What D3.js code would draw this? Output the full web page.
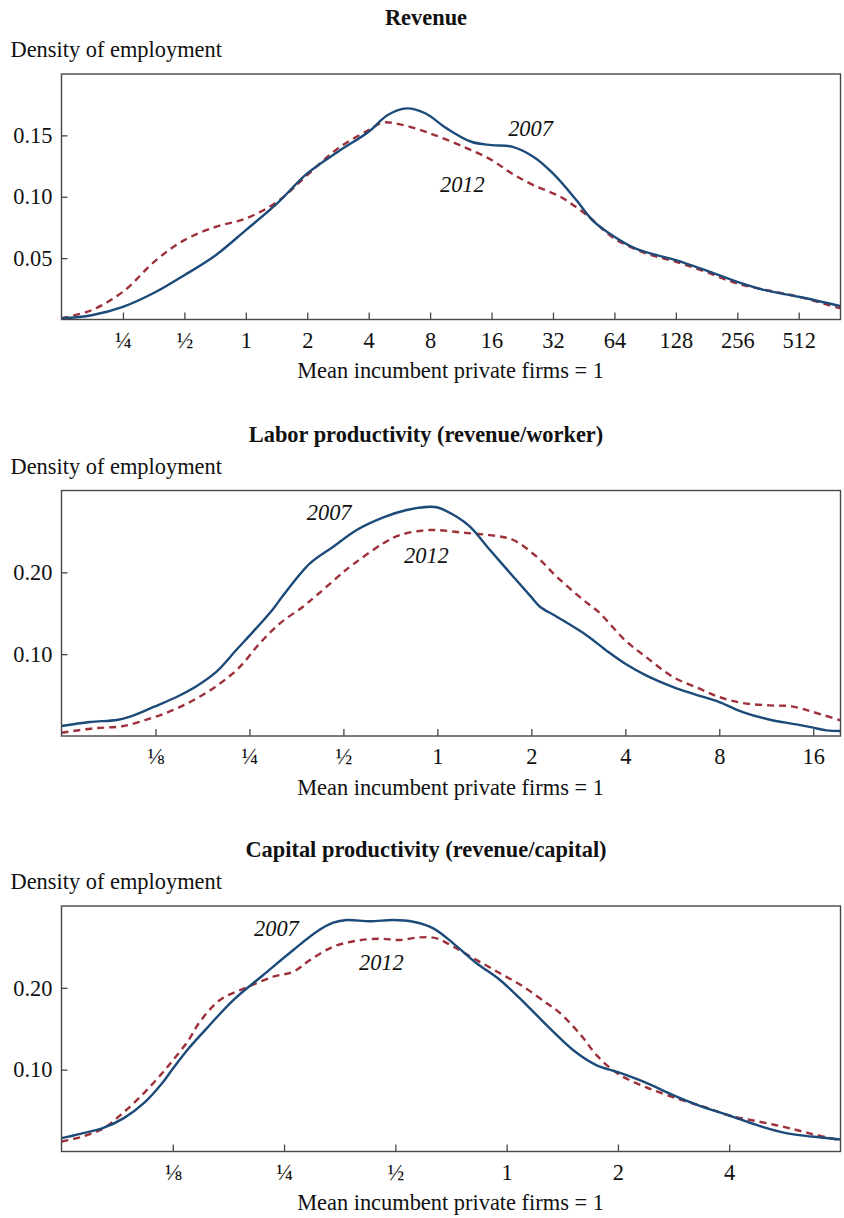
<!DOCTYPE html>
<html>
<head>
<meta charset="utf-8">
<script src="https://cdn.jsdelivr.net/npm/d3@7"></script>
<style>
  html, body { margin: 0; padding: 0; background: #fff; }
  svg { display: block; }
  text { font-family: "Liberation Serif", "Times New Roman", serif; fill: #111; }
</style>
</head>
<body>
<svg id="chart" width="844" height="1218"></svg>
<script>
// Employment-weighted densities; x is log2 of the ratio to the mean of incumbent private firms.
const revenue2007 = [[-3,0.001],[-2.51,0.0035],[-2,0.0103],[-1.46,0.0226],[-1,0.0361],[-0.49,0.0524],[0,0.0728],[0.51,0.0946],[1,0.119],[1.5,0.1367],[2,0.153],[2.31,0.1666],[2.62,0.172],[2.92,0.168],[3.27,0.1557],[3.67,0.1448],[4,0.1421],[4.33,0.1408],[4.68,0.1326],[5,0.119],[5.38,0.0973],[5.64,0.081],[6,0.0674],[6.34,0.0579],[6.69,0.0524],[7,0.0484],[7.48,0.0402],[8,0.0307],[8.45,0.0239],[9,0.0185],[9.68,0.0109]];
const revenue2012 = [[-3,0.001],[-2.51,0.0076],[-2,0.0226],[-1.46,0.0484],[-1,0.0647],[-0.49,0.0755],[0,0.0823],[0.51,0.0959],[1,0.1177],[1.5,0.1394],[2,0.1543],[2.22,0.1603],[2.49,0.1592],[3,0.1516],[3.54,0.1408],[4,0.1299],[4.33,0.119],[4.68,0.1095],[5.12,0.1],[5.55,0.0851],[6,0.066],[6.52,0.0538],[7,0.047],[7.48,0.0389],[8,0.0293],[8.53,0.0234],[9,0.0185],[9.68,0.009]];

const labor2007 = [[-4,0.0122],[-3.7,0.0171],[-3.41,0.0196],[-3.27,0.0236],[-3.02,0.0355],[-2.77,0.048],[-2.56,0.0611],[-2.35,0.0786],[-2.14,0.1051],[-1.96,0.1275],[-1.75,0.155],[-1.64,0.172],[-1.356,0.211],[-1.108,0.2313],[-0.859,0.2517],[-0.575,0.2672],[-0.327,0.2762],[-0.078,0.2802],[-0.007,0.2795],[0.206,0.268],[0.347,0.2558],[0.56,0.2273],[0.808,0.1947],[1,0.1697],[1.092,0.158],[1.27,0.1458],[1.59,0.1229],[1.82,0.1026],[2,0.0883],[2.22,0.0741],[2.51,0.0598],[2.74,0.0509],[3,0.0415],[3.25,0.0293],[3.54,0.0199],[3.82,0.0142],[4,0.0102],[4.14,0.0069],[4.29,0.0061]];
const labor2012 = [[-4,0.004],[-3.66,0.0094],[-3.34,0.0122],[-3.02,0.0228],[-2.77,0.0338],[-2.53,0.048],[-2.31,0.0644],[-2.1,0.0847],[-1.89,0.1133],[-1.675,0.1377],[-1.43,0.158],[-1.284,0.172],[-1,0.2003],[-0.93,0.2069],[-0.575,0.2355],[-0.398,0.2456],[-0.078,0.2517],[0.276,0.2484],[0.631,0.2444],[0.808,0.2395],[1.057,0.2191],[1.27,0.1947],[1.553,0.1662],[1.712,0.1519],[2,0.1168],[2.22,0.0965],[2.51,0.072],[2.79,0.0578],[3,0.0476],[3.25,0.0403],[3.54,0.0374],[3.77,0.0362],[4,0.0293],[4.29,0.0191]];

const capital2007 = [[-4,0.0163],[-3.83,0.0216],[-3.63,0.0285],[-3.44,0.0408],[-3.25,0.0603],[-3.1,0.0827],[-3,0.1011],[-2.86,0.1255],[-2.695,0.1505],[-2.456,0.1851],[-2.187,0.2157],[-1.917,0.2462],[-1.707,0.2686],[-1.558,0.2796],[-1.437,0.2829],[-1.228,0.2813],[-1.019,0.2829],[-0.839,0.2808],[-0.659,0.2727],[-0.48,0.2544],[-0.27,0.23],[-0.06,0.2096],[0.18,0.179],[0.37,0.153],[0.62,0.1215],[0.81,0.1052],[1,0.097],[1.24,0.0848],[1.49,0.0693],[1.73,0.0562],[2,0.044],[2.26,0.0318],[2.5,0.0228],[2.74,0.0183],[3,0.0147]];
const capital2012 = [[-4,0.0122],[-3.83,0.0175],[-3.63,0.0277],[-3.44,0.0481],[-3.25,0.0726],[-3.1,0.095],[-3,0.1113],[-2.86,0.1357],[-2.756,0.1586],[-2.576,0.1851],[-2.336,0.2006],[-2.097,0.2136],[-1.917,0.2197],[-1.767,0.234],[-1.558,0.2503],[-1.347,0.2576],[-1.138,0.26],[-0.958,0.2584],[-0.779,0.2617],[-0.629,0.2605],[-0.48,0.2503],[-0.27,0.234],[-0.06,0.2178],[0.15,0.2014],[0.36,0.1811],[0.47,0.1704],[0.67,0.1418],[0.81,0.1174],[1,0.095],[1.25,0.0787],[1.54,0.0644],[1.78,0.0542],[2,0.044],[2.26,0.0367],[2.5,0.0298],[2.74,0.0216],[3,0.0135]];

// Tick positions (log2) and their labels
const revenueXTicks = [-2,-1,0,1,2,3,4,5,6,7,8,9];
const revenueXLabels = ["\u00BC","\u00BD","1","2","4","8","16","32","64","128","256","512"];
const labourXTicks = [-3,-2,-1,0,1,2,3,4];
const labourXLabels = ["\u215B","\u00BC","\u00BD","1","2","4","8","16"];
const capitalXTicks = [-3,-2,-1,0,1,2];
const capitalXLabels = ["\u215B","\u00BC","\u00BD","1","2","4"];
const revenueYTicks = [0.05,0.10,0.15];
const productivityYTicks = [0.10,0.20];

// Series label anchors: [log2 x, density]
const revenueLabels = {y2007: [4.27,0.1497], y2012: [3.16,0.1041]};
const labourLabels = {y2007: [-1.39,0.264], y2012: [-0.355,0.2114]};
const capitalLabels = {y2007: [-2.27,0.2633], y2012: [-1.327,0.2212]};

const panels = [
  {title: "Revenue", top: 74, xDomain: [-3, 9.68], yDomain: [0, 0.2],
   xTicks: revenueXTicks, xLabels: revenueXLabels, yTicks: revenueYTicks,
   s2007: revenue2007, s2012: revenue2012, labels: revenueLabels},
  {title: "Labor productivity (revenue/worker)", top: 490.5, xDomain: [-4, 4.29], yDomain: [0, 0.3],
   xTicks: labourXTicks, xLabels: labourXLabels, yTicks: productivityYTicks,
   s2007: labor2007, s2012: labor2012, labels: labourLabels},
  {title: "Capital productivity (revenue/capital)", top: 906, xDomain: [-4, 3], yDomain: [0, 0.3],
   xTicks: capitalXTicks, xLabels: capitalXLabels, yTicks: productivityYTicks,
   s2007: capital2007, s2012: capital2012, labels: capitalLabels}
];

const svg = d3.select("#chart");
const left = 61.5, right = 840.5, plotH = 245.5;
const blue = "#1c4a79", red = "#9d303a", frame = "#474747";
const fs = 22.4;

panels.forEach(p => {
  const g = svg.append("g");
  const bottom = p.top + plotH;
  const x = d3.scaleLinear().domain(p.xDomain).range([left, right]);
  const y = d3.scaleLinear().domain(p.yDomain).range([bottom, p.top]);

  g.append("text").attr("x", 426).attr("y", p.top - 49)
    .attr("text-anchor", "middle").attr("font-weight", "bold").attr("font-size", fs)
    .text(p.title);
  g.append("text").attr("x", 10.5).attr("y", p.top - 17)
    .attr("font-size", fs).text("Density of employment");

  const clipId = "clip" + Math.round(p.top);
  g.append("clipPath").attr("id", clipId).append("rect")
    .attr("x", left).attr("y", p.top).attr("width", right - left).attr("height", plotH);

  const line = d3.line().x(d => x(d[0])).y(d => y(d[1])).curve(d3.curveCatmullRom.alpha(0.5));
  const lines = g.append("g").attr("clip-path", `url(#${clipId})`);
  lines.append("path").datum(p.s2012).attr("d", line)
    .attr("fill", "none").attr("stroke", red).attr("stroke-width", 2.4)
    .attr("stroke-dasharray", "7,5");
  lines.append("path").datum(p.s2007).attr("d", line)
    .attr("fill", "none").attr("stroke", blue).attr("stroke-width", 2.4);

  // x axis with inward ticks
  const xAxis = d3.axisBottom(x).tickValues(p.xTicks).tickSizeInner(-7).tickSizeOuter(0)
    .tickPadding(12.5).tickFormat((d, i) => p.xLabels[i]);
  const xa = g.append("g").attr("transform", `translate(0,${bottom})`).call(xAxis);
  xa.select(".domain").remove();
  xa.selectAll(".tick line").attr("stroke", frame).attr("stroke-width", 1.3);
  xa.selectAll(".tick text").attr("font-size", fs).attr("font-family", "Liberation Serif, serif")
    .attr("fill", "#111").attr("dy", "0.71em");

  const yAxis = d3.axisLeft(y).tickValues(p.yTicks).tickSizeInner(-6).tickSizeOuter(0)
    .tickPadding(9).tickFormat(d3.format(".2f"));
  const ya = g.append("g").attr("transform", `translate(${left},0)`).call(yAxis);
  ya.select(".domain").remove();
  ya.selectAll(".tick line").attr("stroke", frame).attr("stroke-width", 1.3);
  ya.selectAll(".tick text").attr("font-size", fs).attr("font-family", "Liberation Serif, serif")
    .attr("fill", "#111");

  g.append("rect").attr("x", left).attr("y", p.top).attr("width", right - left).attr("height", plotH)
    .attr("fill", "none").attr("stroke", frame).attr("stroke-width", 1.4);

  g.append("text").attr("x", 450.5).attr("y", bottom + 58.5)
    .attr("text-anchor", "middle").attr("font-size", fs).text("Mean incumbent private firms = 1");

  [["y2007", "2007"], ["y2012", "2012"]].forEach(([k, t]) => {
    g.append("text").attr("x", x(p.labels[k][0])).attr("y", y(p.labels[k][1]))
      .attr("font-style", "italic").attr("font-size", fs).text(t);
  });
});
</script>
</body>
</html>
